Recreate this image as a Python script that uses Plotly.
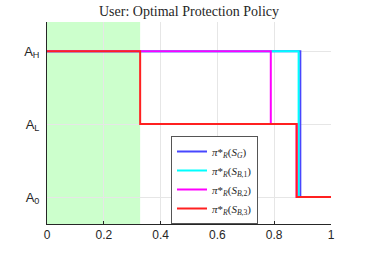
import plotly.graph_objects as go

# Data
names = ["<i>π</i>*<sub><i>R</i></sub>(<i>S</i><sub><i>G</i></sub>)",
         "<i>π</i>*<sub><i>R</i></sub>(<i>S</i><sub><i>B</i>,1</sub>)",
         "<i>π</i>*<sub><i>R</i></sub>(<i>S</i><sub><i>B</i>,2</sub>)",
         "<i>π</i>*<sub><i>R</i></sub>(<i>S</i><sub><i>B</i>,3</sub>)"]
colors = ["#4747ff", "#00ffff", "#ff00ff", "#ff2020"]
sg_x = [0, 0.892, 0.892, 1]
sg_y = [2, 2, 0, 0]
sb1_x = [0, 0.886, 0.886, 1]
sb1_y = [2, 2, 0, 0]
sb2_x = [0, 0.788, 0.788, 0.879, 0.879, 1]
sb2_y = [2, 2, 1, 1, 0, 0]
sb3_x = [0, 0.328, 0.328, 0.879, 0.879, 1]
sb3_y = [2, 2, 1, 1, 0, 0]
green_end = 0.328
y_ticks = [0, 1, 2]
y_labels = ["A<sub>0</sub>", "A<sub>L</sub>", "A<sub>H</sub>"]
x_ticks = [0, 0.2, 0.4, 0.6, 0.8, 1]
x_labels = ["0", "0.2", "0.4", "0.6", "0.8", "1"]

fig = go.Figure()
for xs, ys, n, c in zip([sg_x, sb1_x, sb2_x, sb3_x], [sg_y, sb1_y, sb2_y, sb3_y], names, colors):
    fig.add_trace(go.Scatter(x=xs, y=ys, mode="lines", name=n,
                             line=dict(color=c, width=2)))

fig.add_shape(type="rect", x0=0, x1=green_end, y0=0, y1=1, yref="paper",
              fillcolor="#ccffcc", line=dict(width=0), layer="below")

L, R, T, B = 47, 331, 22, 224
fig.update_layout(
    width=366, height=253,
    margin=dict(l=L, r=366 - R, t=T, b=253 - B, autoexpand=False),
    plot_bgcolor="white", paper_bgcolor="white",
    title=dict(text="User: Optimal Protection Policy", x=189/366, xanchor="center",
               y=1 - 11/253, yanchor="middle",
               font=dict(family="Liberation Serif", size=14, color="#262626")),
    xaxis=dict(range=[0, 1], tickvals=x_ticks, ticktext=x_labels,
               showgrid=True, gridcolor="#e6e6e6", zeroline=False,
               showline=True, linecolor="#262626", linewidth=1,
               ticks="inside", ticklen=3, tickcolor="#262626", automargin=False,
               tickfont=dict(family="Liberation Sans", size=12, color="#262626")),
    yaxis=dict(range=[-0.37, 2.4], tickvals=y_ticks, ticktext=y_labels,
               showgrid=True, gridcolor="#e6e6e6", zeroline=False,
               showline=True, linecolor="#262626", linewidth=1,
               ticks="", ticklabelstandoff=4, automargin=False,
               tickfont=dict(family="Liberation Sans", size=13, color="#262626")),
    legend=dict(x=(171 - L) / (R - L), y=(B - 136) / (B - T),
                xanchor="left", yanchor="top",
                bgcolor="white", bordercolor="#555555", borderwidth=1,
                font=dict(family="Liberation Serif", size=11, color="#262626"),
                tracegroupgap=0),
    showlegend=True,
)

fig.write_html("out.html", config={"displayModeBar": False},
               post_script="document.body.style.margin='0';document.body.style.padding='0';")
